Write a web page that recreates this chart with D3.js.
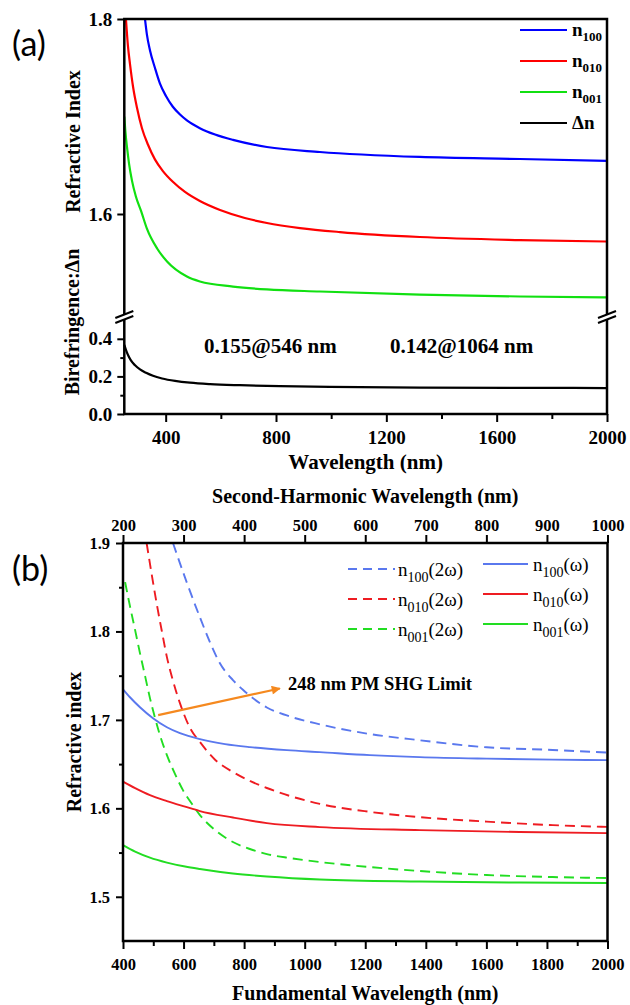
<!DOCTYPE html>
<html>
<head>
<meta charset="utf-8">
<script src="https://cdn.jsdelivr.net/npm/d3@7"></script>
<style>
  body { margin: 0; background: #fff; }
  text { font-family: "Liberation Serif", "Times New Roman", serif; }
</style>
</head>
<body>
<svg id="fig" width="630" height="1005"></svg>
<script>
// ---------- data, panel (a) ----------
const wlA100 = [325, 332, 343, 361, 379, 401, 426, 452, 477, 524, 579, 644, 767, 959, 1321, 1684, 2000];
const nA100  = [1.800, 1.784, 1.768, 1.750, 1.734, 1.721, 1.710, 1.702, 1.696, 1.688, 1.6815, 1.676, 1.6687, 1.6636, 1.6585, 1.6564, 1.6544];
const wlA010 = [256, 263, 271, 282, 296, 314, 336, 361, 390, 426, 470, 524, 597, 687, 767, 887, 1032, 1321, 1684, 2000];
const nA010  = [1.800, 1.773, 1.753, 1.730, 1.709, 1.688, 1.671, 1.656, 1.644, 1.633, 1.6226, 1.6133, 1.6041, 1.5959, 1.5908, 1.5856, 1.5815, 1.5764, 1.5733, 1.5718];
const wlA001 = [250, 254, 260, 267, 278, 292, 311, 332, 369, 405, 477, 524, 644, 767, 959, 1321, 1684, 2000];
const nA001  = [1.700, 1.6845, 1.668, 1.652, 1.634, 1.618, 1.603, 1.585, 1.5646, 1.5513, 1.5359, 1.5308, 1.5256, 1.5226, 1.5205, 1.5174, 1.5154, 1.5144];
const wlDn   = [250, 256, 263, 274, 289, 307, 329, 354, 387, 434, 488, 561, 669, 814, 995, 1321, 1684, 2000];
const dn     = [0.368, 0.341, 0.315, 0.285, 0.259, 0.237, 0.219, 0.203, 0.189, 0.176, 0.1664, 0.1589, 0.1531, 0.1483, 0.1445, 0.1408, 0.1392, 0.1381];
const dnNotes = ["0.155@546 nm", "0.142@1064 nm"];
const xTicksA = [400, 800, 1200, 1600, 2000];
const xMinorA = [600, 1000, 1400, 1800];
const yTicksAup = [1.6, 1.8];
const yTicksAlow = [0.0, 0.2, 0.4];
const yMinorAlow = [0.1, 0.3];
const legendA = [["100", "#0000ff"], ["010", "#ff0000"], ["001", "#11e011"]];

// ---------- data, panel (b) ----------
const wlB100w = [400, 423, 456, 499, 545, 588, 654, 737, 819, 941, 1050, 1215, 1380, 1601, 1819, 2000];
const nB100w  = [1.7347, 1.7256, 1.7143, 1.7019, 1.6917, 1.6850, 1.6782, 1.6726, 1.6692, 1.6658, 1.6636, 1.6602, 1.6579, 1.6562, 1.6551, 1.6545];
const wlB010w = [400, 440, 489, 545, 605, 654, 763, 875, 1050, 1380, 1710, 2000];
const nB010w  = [1.6302, 1.6228, 1.6149, 1.6082, 1.6019, 1.5969, 1.5896, 1.5833, 1.5788, 1.5754, 1.5732, 1.5720];
const wlB001w = [400, 440, 489, 545, 605, 654, 763, 875, 1050, 1380, 1710, 2000];
const nB001w  = [1.5585, 1.5511, 1.5443, 1.5387, 1.5342, 1.5314, 1.5263, 1.5229, 1.5195, 1.5172, 1.5161, 1.5155];
const wlB100s = [565, 611, 654, 687, 720, 763, 796, 875, 941, 1050, 1215, 1380, 1601, 1819, 2000];
const nB100s  = [1.900, 1.855, 1.816, 1.788, 1.764, 1.745, 1.734, 1.714, 1.705, 1.695, 1.684, 1.677, 1.669, 1.666, 1.663];
const wlB010s = [478, 496, 512, 529, 545, 562, 588, 621, 654, 704, 763, 819, 875, 951, 1050, 1215, 1380, 1601, 1819, 2000];
const nB010s  = [1.900, 1.862, 1.830, 1.799, 1.771, 1.748, 1.719, 1.691, 1.675, 1.655, 1.641, 1.631, 1.623, 1.614, 1.605, 1.596, 1.590, 1.585, 1.581, 1.579];
const wlB001s = [407, 423, 440, 456, 473, 489, 506, 522, 545, 572, 598, 628, 654, 704, 763, 819, 875, 951, 1050, 1215, 1380, 1601, 1819, 2000];
const nB001s  = [1.8557, 1.8286, 1.8015, 1.7755, 1.7495, 1.7246, 1.7020, 1.6828, 1.6602, 1.6387, 1.6206, 1.6048, 1.5924, 1.5754, 1.5619, 1.5540, 1.5483, 1.5438, 1.5393, 1.5336, 1.5291, 1.5246, 1.5223, 1.5212];
const limitArrow = [[516, 1.7054], [918, 1.7355]];
const limitText = "248 nm PM SHG Limit";
const xTicksB = [400, 600, 800, 1000, 1200, 1400, 1600, 1800, 2000];
const xMinorB = [500, 700, 900, 1100, 1300, 1500, 1700, 1900];
const xTicksB2 = [200, 300, 400, 500, 600, 700, 800, 900, 1000];
const yTicksB = [1.5, 1.6, 1.7, 1.8, 1.9];
const yMinorB = [1.55, 1.65, 1.75, 1.85];
const blueB = "#5a78ee", redB = "#ee1c22", greenB = "#22dd22";

const svg = d3.select("#fig");
const SERIF = "'Liberation Serif','Times New Roman',serif";
const zip = (xs, ys) => xs.map((x, i) => [x, ys[i]]);

function styleAxis(g, size) {
  g.attr("font-family", SERIF);
  g.select(".domain").remove();
  g.selectAll(".tick line").attr("stroke", "#000").attr("stroke-width", 2);
  g.selectAll(".tick text").attr("fill", "#000")
    .style("font-family", SERIF).style("font-weight", "bold").style("font-size", size);
}

// ================= panel (a) =================
const aL = 124.3, aR = 607, aT = 19, aB = 414, aBreak = 317;
const xA = d3.scaleLinear().domain([250, 2000]).range([aL, aR]);
const yAup = d3.scaleLinear().domain([1.5, 1.8]).range([311.5, aT]);
const yAlow = d3.scaleLinear().domain([0, 0.5]).range([aB, 320]);

const defs = svg.append("defs");
defs.append("clipPath").attr("id", "clipAup").append("rect")
  .attr("x", aL).attr("y", aT).attr("width", aR - aL).attr("height", 314 - aT);
defs.append("clipPath").attr("id", "clipB").append("rect")
  .attr("x", 123).attr("y", 543).attr("width", 607.5 - 123).attr("height", 941 - 543);

const lineAup = d3.line().x(d => xA(d[0])).y(d => yAup(d[1])).curve(d3.curveMonotoneX);
const lineAlow = d3.line().x(d => xA(d[0])).y(d => yAlow(d[1])).curve(d3.curveMonotoneX);

const curvesA = svg.append("g").attr("clip-path", "url(#clipAup)");
[[wlA100, nA100, legendA[0][1]], [wlA010, nA010, legendA[1][1]], [wlA001, nA001, legendA[2][1]]]
  .forEach(s => {
    curvesA.append("path").attr("d", lineAup(zip(s[0], s[1])))
      .attr("fill", "none").attr("stroke", s[2]).attr("stroke-width", 2.2);
  });
svg.append("path").attr("d", lineAlow(zip(wlDn, dn)))
  .attr("fill", "none").attr("stroke", "#000").attr("stroke-width", 2.2);

// axes (a)
const intFmt = d3.format("d"), oneFmt = d3.format(".1f");
svg.append("g").attr("transform", `translate(0,${aB})`)
  .call(d3.axisBottom(xA).tickValues(xTicksA).tickSize(8).tickSizeOuter(0).tickPadding(9).tickFormat(intFmt))
  .call(g => styleAxis(g, "19px"));
svg.append("g").attr("transform", `translate(0,${aB})`)
  .call(d3.axisBottom(xA).tickValues(xMinorA).tickSize(5).tickFormat(""))
  .call(g => styleAxis(g, "19px"));
svg.append("g").attr("transform", `translate(${aL},0)`)
  .call(d3.axisLeft(yAup).tickValues(yTicksAup).tickSize(7).tickPadding(5).tickFormat(oneFmt))
  .call(g => styleAxis(g, "19px"));
svg.append("g").attr("transform", `translate(${aL},0)`)
  .call(d3.axisLeft(yAlow).tickValues(yTicksAlow).tickSize(7).tickPadding(5).tickFormat(oneFmt))
  .call(g => styleAxis(g, "19px"));
svg.append("g").attr("transform", `translate(${aL},0)`)
  .call(d3.axisLeft(yAlow).tickValues(yMinorAlow).tickSize(4).tickFormat(""))
  .call(g => styleAxis(g, "19px"));

svg.append("rect").attr("x", aL).attr("y", aT).attr("width", aR - aL).attr("height", aB - aT)
  .attr("fill", "none").attr("stroke", "#000").attr("stroke-width", 2.5);

function axisBreak(x, y) {
  const g = svg.append("g");
  g.append("polygon")
    .attr("points", `${x - 9},${y + 1} ${x + 9},${y - 6} ${x + 9},${y - 1} ${x - 9},${y + 6}`)
    .attr("fill", "#fff");
  [0, 5].forEach(o => g.append("line")
    .attr("x1", x - 9).attr("y1", y + 1 + o).attr("x2", x + 9).attr("y2", y - 6 + o)
    .attr("stroke", "#000").attr("stroke-width", 2));
}
axisBreak(aL, aBreak);
axisBreak(aR, aBreak);

// legend (a)
const legA = svg.append("g");
legendA.concat([["", "#000"]]).forEach((d, i) => {
  const y = 30 + i * 31;
  legA.append("line").attr("x1", 520).attr("x2", 567).attr("y1", y).attr("y2", y)
    .attr("stroke", d[1]).attr("stroke-width", 2.2);
  const t = legA.append("text").attr("x", 572).attr("y", y + 6)
    .style("font-weight", "bold").style("font-size", "19px");
  if (d[0]) {
    t.append("tspan").text("n");
    t.append("tspan").attr("dy", 5).style("font-size", "13px").text(d[0]);
  } else {
    t.text("\u0394n");
  }
});

// annotations (a)
svg.append("text").attr("x", 204).attr("y", 353).style("font-weight", "bold").style("font-size", "21px").text(dnNotes[0]);
svg.append("text").attr("x", 390).attr("y", 353).style("font-weight", "bold").style("font-size", "21px").text(dnNotes[1]);

// titles (a)
svg.append("text").attr("x", (aL + aR) / 2).attr("y", 469).attr("text-anchor", "middle")
  .style("font-weight", "bold").style("font-size", "21px").text("Wavelength (nm)");
svg.append("text").attr("transform", "translate(80,141.5) rotate(-90)").attr("text-anchor", "middle")
  .style("font-weight", "bold").style("font-size", "20px").text("Refractive Index");
svg.append("text").attr("transform", "translate(79,322) rotate(-90)").attr("text-anchor", "middle")
  .style("font-weight", "bold").style("font-size", "20px").text("Birefringence:\u0394n");
svg.append("text").attr("x", 12).attr("y", 56).style("font-family", "Lato, 'Open Sans', sans-serif")
  .style("font-size", "34px").text("(a)");

// ================= panel (b) =================
const bL = 123, bR = 607.5, bT = 543, bB = 941;
const xB = d3.scaleLinear().domain([400, 2000]).range([bL, bR]);
const xB2 = d3.scaleLinear().domain([200, 1000]).range([bL, bR]);
const yB = d3.scaleLinear().domain([1.45, 1.9]).range([bB, bT]);
const lineB = d3.line().x(d => xB(d[0])).y(d => yB(d[1])).curve(d3.curveMonotoneX);

const curvesB = svg.append("g").attr("clip-path", "url(#clipB)");
[[wlB100s, nB100s, blueB], [wlB010s, nB010s, redB], [wlB001s, nB001s, greenB]].forEach(s => {
  curvesB.append("path").attr("d", lineB(zip(s[0], s[1])))
    .attr("fill", "none").attr("stroke", s[2]).attr("stroke-width", 1.9).attr("stroke-dasharray", "10,6");
});
[[wlB100w, nB100w, blueB], [wlB010w, nB010w, redB], [wlB001w, nB001w, greenB]].forEach(s => {
  curvesB.append("path").attr("d", lineB(zip(s[0], s[1])))
    .attr("fill", "none").attr("stroke", s[2]).attr("stroke-width", 1.9);
});

// arrow
defs.append("marker").attr("id", "arrowHead").attr("viewBox", "0 0 10 10")
  .attr("refX", 9).attr("refY", 5).attr("markerWidth", 12).attr("markerHeight", 9)
  .attr("markerUnits", "userSpaceOnUse").attr("orient", "auto")
  .append("path").attr("d", "M0,0 L10,5 L0,10 Z").attr("fill", "#f5891f");
svg.append("line")
  .attr("x1", xB(limitArrow[0][0])).attr("y1", yB(limitArrow[0][1]))
  .attr("x2", xB(limitArrow[1][0])).attr("y2", yB(limitArrow[1][1]))
  .attr("stroke", "#f5891f").attr("stroke-width", 2.2).attr("marker-end", "url(#arrowHead)");
svg.append("text").attr("x", 288).attr("y", 690)
  .style("font-weight", "bold").style("font-size", "18.5px").text(limitText);

// axes (b)
svg.append("g").attr("transform", `translate(0,${bB})`)
  .call(d3.axisBottom(xB).tickValues(xTicksB).tickSize(8).tickSizeOuter(0).tickPadding(9).tickFormat(intFmt))
  .call(g => styleAxis(g, "16.5px"));
svg.append("g").attr("transform", `translate(0,${bB})`)
  .call(d3.axisBottom(xB).tickValues(xMinorB).tickSize(5).tickFormat(""))
  .call(g => styleAxis(g, "16.5px"));
svg.append("g").attr("transform", `translate(0,${bT})`)
  .call(d3.axisTop(xB2).tickValues(xTicksB2).tickSize(8).tickSizeOuter(0).tickPadding(4).tickFormat(intFmt))
  .call(g => styleAxis(g, "16.5px"));
svg.append("g").attr("transform", `translate(${bL},0)`)
  .call(d3.axisLeft(yB).tickValues(yTicksB).tickSize(7).tickPadding(6).tickFormat(oneFmt))
  .call(g => styleAxis(g, "16.5px"));
svg.append("g").attr("transform", `translate(${bL},0)`)
  .call(d3.axisLeft(yB).tickValues(yMinorB).tickSize(4).tickFormat(""))
  .call(g => styleAxis(g, "16.5px"));
svg.append("rect").attr("x", bL).attr("y", bT).attr("width", bR - bL).attr("height", bB - bT)
  .attr("fill", "none").attr("stroke", "#000").attr("stroke-width", 2.5);

// legend (b)
const legB = svg.append("g");
const subs = ["100", "010", "001"], colsB = [blueB, redB, greenB];
subs.forEach((s, i) => {
  const yd = 569 + i * 30, ys = 564 + i * 30;
  legB.append("line").attr("x1", 348).attr("x2", 395).attr("y1", yd).attr("y2", yd)
    .attr("stroke", colsB[i]).attr("stroke-width", 1.9).attr("stroke-dasharray", "9,6");
  const t1 = legB.append("text").attr("x", 398).attr("y", yd + 7).style("font-size", "19px");
  t1.append("tspan").text("n");
  t1.append("tspan").attr("dy", 6).style("font-size", "14px").text(s);
  t1.append("tspan").attr("dy", -6).text("(2\u03c9)");
  legB.append("line").attr("x1", 483).attr("x2", 528).attr("y1", ys).attr("y2", ys)
    .attr("stroke", colsB[i]).attr("stroke-width", 1.9);
  const t2 = legB.append("text").attr("x", 533).attr("y", ys + 7).style("font-size", "19px");
  t2.append("tspan").text("n");
  t2.append("tspan").attr("dy", 6).style("font-size", "14px").text(s);
  t2.append("tspan").attr("dy", -6).text("(\u03c9)");
});

// titles (b)
svg.append("text").attr("x", (bL + bR) / 2).attr("y", 503).attr("text-anchor", "middle")
  .style("font-weight", "bold").style("font-size", "20px").text("Second-Harmonic Wavelength (nm)");
svg.append("text").attr("x", (bL + bR) / 2).attr("y", 1000).attr("text-anchor", "middle")
  .style("font-weight", "bold").style("font-size", "20px").text("Fundamental Wavelength (nm)");
svg.append("text").attr("transform", `translate(81,${(bT + bB) / 2}) rotate(-90)`).attr("text-anchor", "middle")
  .style("font-weight", "bold").style("font-size", "20px").text("Refractive index");
svg.append("text").attr("x", 12).attr("y", 581).style("font-family", "Lato, 'Open Sans', sans-serif")
  .style("font-size", "34px").text("(b)");
</script>
</body>
</html>
